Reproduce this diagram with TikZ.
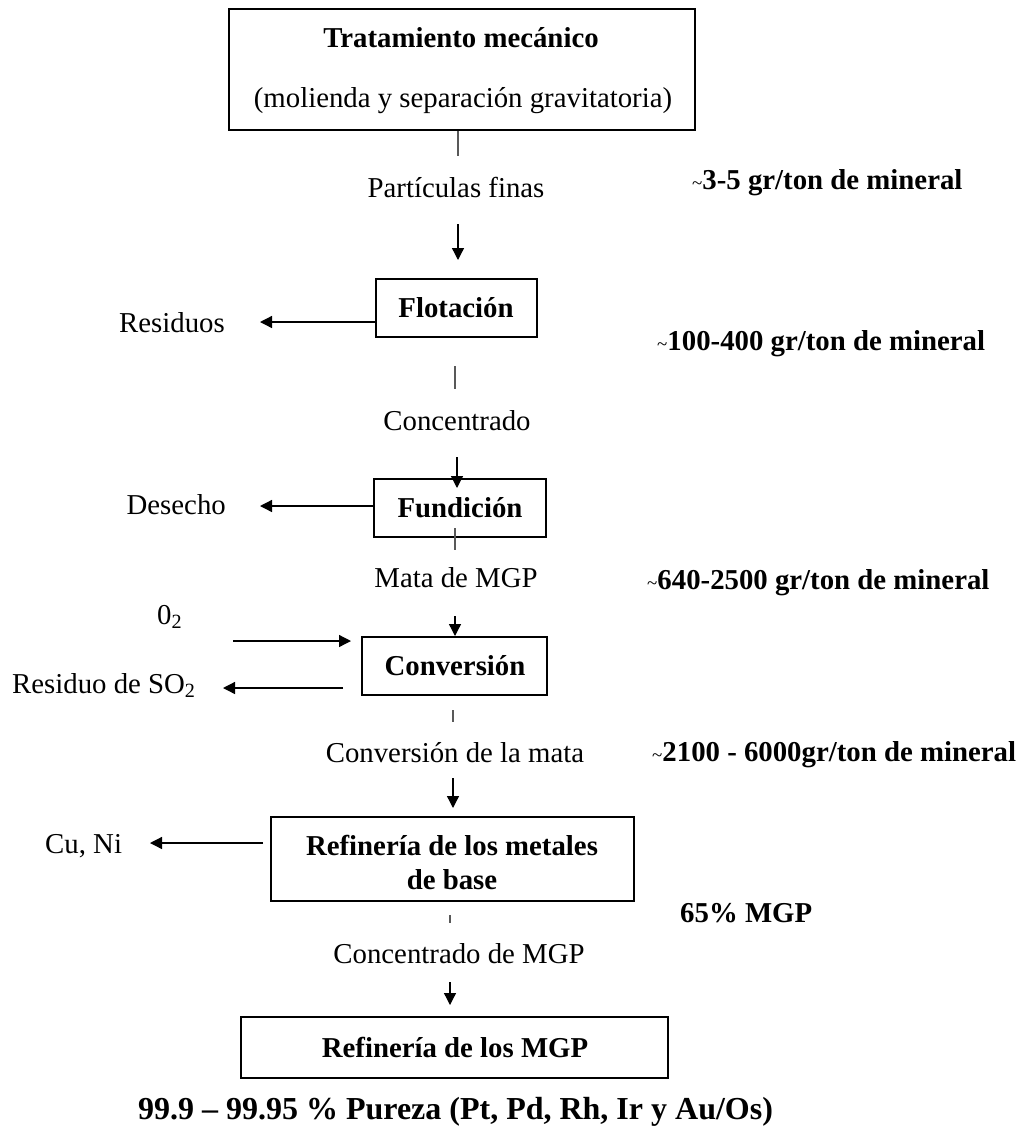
\documentclass[tikz,border=0pt]{standalone}
\usepackage{fontspec}
\setmainfont{Liberation Serif}
\usetikzlibrary{arrows.meta}
\newcommand\mytld{{\fontsize{19}{19}\selectfont\mdseries\textasciitilde}}
\begin{document}
\begin{tikzpicture}[x=1pt,y=-1pt,
  box/.style={draw, line width=2pt, inner sep=0pt},
  lbl/.style={inner sep=0pt, font=\fontsize{28.8}{34}\selectfont},
  blbl/.style={inner sep=0pt, font=\fontsize{28.8}{34}\selectfont\bfseries},
  flow/.style={line width=1.3pt, -{Triangle[length=12pt,width=12pt]}},
  tickline/.style={line width=1.1pt, draw=black!65},
]
\useasboundingbox (0,0) rectangle (1032,1128);

% boxes
\node[box, minimum width=466pt, minimum height=121pt] (b1) at (462,69.5) {};
\node[box, minimum width=161pt, minimum height=58pt] (flot) at (456.5,308) {};
\node[box, minimum width=172pt, minimum height=58pt] (fund) at (460,508) {};
\node[box, minimum width=185pt, minimum height=58pt] (conv) at (454.5,666) {};
\node[box, minimum width=363pt, minimum height=84pt] (refb) at (452.5,859) {};
\node[box, minimum width=427pt, minimum height=61pt] (refm) at (454.5,1047.5) {};

% box texts
\node[blbl, anchor=base] (t1a) at (461,47) {Tratamiento mecánico};
\node[lbl, anchor=base] (t1b) at (463,107) {(molienda y separación gravitatoria)};
\node[blbl, anchor=base] (tflot) at (456,317) {Flotación};
\node[blbl, anchor=base] (tfund) at (460,517) {Fundición};
\node[blbl, anchor=base] (tconv) at (455,675) {Conversión};
\node[blbl, anchor=base] (trefa) at (452,855) {Refinería de los metales};
\node[blbl, anchor=base] (trefb) at (452,889) {de base};
\node[blbl, anchor=base] (trefm) at (455,1057) {Refinería de los MGP};

% flow labels
\node[lbl, anchor=base] (pf) at (456,197) {Partículas finas};
\node[lbl, anchor=base] (conc) at (457,430) {Concentrado};
\node[lbl, anchor=base] (mata) at (456,587) {Mata de MGP};
\node[lbl, anchor=base] (cmata) at (455,762) {Conversión de la mata};
\node[lbl, anchor=base] (cmgp) at (459,963) {Concentrado de MGP};

% side labels
\node[lbl, anchor=base east] (resid) at (225,332) {Residuos};
\node[lbl, anchor=base east] (desec) at (226,514) {Desecho};
\node[lbl, anchor=base west] (oxy) at (157,624) {0\textsubscript{2}};
\node[lbl, anchor=base west] (so2) at (12,693) {Residuo de SO\textsubscript{2}};
\node[lbl, anchor=base west] (cuni) at (45,853) {Cu, Ni};

% right annotations
\node[blbl, anchor=base west] (a1) at (692,189) {\mytld3-5 gr/ton de mineral};
\node[blbl, anchor=base west] (a2) at (657,350) {\mytld100-400 gr/ton de mineral};
\node[blbl, anchor=base west] (a3) at (647,589) {\mytld640-2500 gr/ton de mineral};
\node[blbl, anchor=base west] (a4) at (652,761) {\mytld2100 - 6000gr/ton de mineral};
\node[blbl, anchor=base west] (a5) at (680,922) {65\% MGP};

% bottom text
\node[inner sep=0pt, font=\fontsize{32}{36}\selectfont\bfseries, anchor=base] (pur) at (455.5,1119)
  {99.9 – 99.95 \% Pureza (Pt, Pd, Rh, Ir y Au/Os)};

% coordinates for free ends
\coordinate (k1e) at (458,156);
\coordinate (r1s) at (458,224);
\coordinate (k2s) at (455,366);
\coordinate (k2e) at (455,389);
\coordinate (r2s) at (457,457);
\coordinate (k3s) at (455,528);
\coordinate (k3e) at (455,550);
\coordinate (r3s) at (455,616);
\coordinate (k4s) at (453,710);
\coordinate (k4e) at (453,722);
\coordinate (r4s) at (453,778);
\coordinate (k5s) at (450,915);
\coordinate (k5e) at (450,923);
\coordinate (r5s) at (450,982);
\coordinate (oxs) at (233,641);
\coordinate (rsx) at (260,322);
\coordinate (dsx) at (260,506);
\coordinate (sox) at (223,688);
\coordinate (cnx) at (150,843);
\coordinate (cns) at (263,843);
\coordinate (sos) at (343,688);

% ticks
\draw[tickline] (b1.south -| k1e) -- (k1e);
\draw[tickline] (k2s) -- (k2e);
\draw[tickline] (k3s) -- (k3e);
\draw[tickline] (k4s) -- (k4e);
\draw[tickline] (k5s) -- (k5e);

% down arrows
\draw[flow] (r1s) -- (458,260);
\draw[flow] (r2s) -- (457,488);
\draw[flow] (r3s) -- (conv.north -| r3s);
\draw[flow] (r4s) -- (453,808);
\draw[flow] (r5s) -- (450,1005);

% side arrows
\draw[flow] (flot.west |- rsx) -- (rsx);
\draw[flow] (fund.west |- dsx) -- (dsx);
\draw[flow] (oxs) -- (351,641);
\draw[flow] (sos) -- (sox);
\draw[flow] (cns) -- (cnx);
\end{tikzpicture}
\end{document}
